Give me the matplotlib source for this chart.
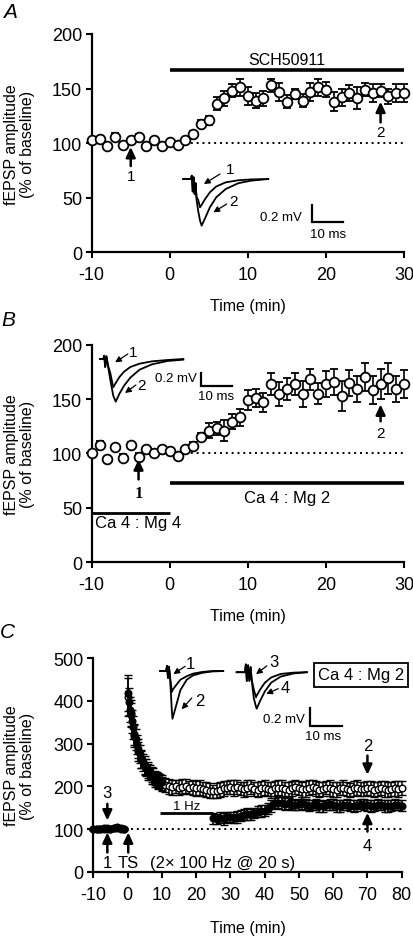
import matplotlib
matplotlib.use('Agg')
import matplotlib.pyplot as plt
import numpy as np

plt.rcParams['font.family'] = ['Liberation Sans', 'DejaVu Sans']
plt.rcParams['axes.unicode_minus'] = False

# ---------------- data ----------------
# Panel A (SCH50911)
A_time = np.arange(-10, 31)
A_vals = [103, 104, 97, 106, 98, 103, 106, 97, 103, 97, 101,
          98, 103, 108.5, 118, 121, 136, 141, 148, 151, 143,
          139, 141, 153, 147, 138, 145, 139, 147, 151, 149,
          138, 142, 146, 141, 149, 146, 148, 143, 146, 146]
A_err = [2, 2, 2, 3, 2, 2, 2, 2, 2, 2, 2,
         2, 2, 3, 3, 4, 6, 7, 6, 8, 8,
         7, 7, 6, 8, 6, 5, 6, 8, 8, 7,
         9, 8, 7, 10, 6, 8, 6, 7, 8, 8]

# Panel B (Ca 4 : Mg 4 -> Ca 4 : Mg 2)
B_time = np.arange(-10, 31)
B_vals = [100, 108, 95, 106, 96, 108, 97, 104, 100, 104, 102,
          98, 104, 107, 115, 121, 123, 121, 129, 133, 149,
          151, 147, 164, 155, 159, 164, 155, 168, 155, 164,
          166, 153, 165, 159, 170, 158, 164, 169, 159, 164]
B_err = [2, 3, 2, 2, 3, 2, 3, 2, 2, 2, 2,
         2, 2, 3, 4, 7, 6, 10, 7, 8, 9,
         8, 9, 10, 11, 10, 10, 12, 10, 10, 12,
         12, 14, 12, 12, 13, 13, 14, 14, 12, 13]

# Panel C, control pathway (open circles)
C_open_time = np.arange(-10, 81)
C_open_vals = [100, 99, 101, 100, 102, 101, 103, 102, 101, 100,
               410, 372, 318, 282, 262, 246, 234, 224, 216, 210, 206,
               203, 200, 198, 200, 197, 199, 201, 197, 198, 195,
               197, 193, 192, 190, 188, 190, 192, 195, 197, 199,
               196, 198, 195, 193, 196, 198, 194, 192, 195, 197,
               193, 191, 195, 197, 196, 193, 192, 195, 198, 196,
               193, 194, 197, 198, 195, 192, 194, 197, 196, 193,
               192, 195, 197, 194, 192, 195, 197, 194, 193, 196,
               195, 192, 193, 196, 194, 192, 193, 195, 194, 196]
C_open_err = [3, 3, 3, 3, 3, 3, 3, 3, 3, 3,
              45, 30, 25, 22, 20, 19, 18, 18, 17, 17, 17,
              16, 17, 18, 16, 17, 18, 17, 16, 18, 17,
              17, 16, 18, 17, 16, 17, 18, 17, 16, 17,
              18, 17, 16, 17, 18, 17, 16, 18, 17, 17,
              16, 18, 17, 17, 18, 16, 17, 18, 17, 16,
              17, 18, 17, 16, 17, 18, 17, 16, 18, 17,
              17, 16, 18, 17, 16, 17, 18, 17, 16, 17,
              18, 17, 16, 17, 18, 17, 16, 17, 18, 17]

# Panel C, 1 Hz pathway (filled circles)
C_fill_time = [-10, -9, -8, -7, -6, -5, -4, -3, -2, -1,
               0, 0.33, 0.67, 1, 1.33, 1.67, 2, 2.33, 2.67, 3,
               3.5, 4, 4.5, 5, 5.5, 6, 6.5, 7, 7.5, 8, 8.5, 9, 9.5, 10] + list(range(25, 81))
C_fill_vals = [100, 101, 99, 102, 101, 100, 103, 104, 102, 100,
               418, 398, 380, 368, 352, 338, 322, 310, 298, 288,
               276, 265, 256, 250, 244, 238, 233, 228, 224, 220, 217, 214, 212, 209,
               125, 123, 126, 124, 127, 128, 126, 129, 131, 133,
               135, 134, 138, 140, 142, 143, 148, 155, 160, 162,
               161, 158, 160, 157, 156, 158, 160, 157, 155, 156,
               158, 155, 153, 156, 158, 157, 155, 154, 156, 157,
               155, 153, 156, 158, 157, 156, 154, 155, 157, 156,
               154, 153, 155, 157, 156, 155]
C_fill_err = [3, 3, 3, 3, 3, 3, 3, 3, 3, 3,
              42, 32, 30, 28, 27, 26, 24, 24, 23, 22,
              22, 21, 20, 20, 19, 19, 18, 18, 18, 17, 17, 17, 17, 17,
              13, 12, 13, 14, 13, 12, 13, 14, 13, 13,
              14, 13, 12, 13, 14, 13, 13, 14, 13, 12,
              13, 14, 13, 13, 12, 13, 14, 13, 13, 12,
              13, 14, 13, 12, 13, 13, 14, 13, 12, 13,
              13, 14, 13, 12, 13, 13, 14, 13, 13, 12,
              13, 14, 13, 13, 12, 13]

# Example fEPSP traces (time in ms, voltage in mV)
trA_t = [2.6, 5.0, 5.3, 5.6, 5.9, 6.2, 6.5, 6.8, 7.3, 7.9, 8.4, 9.5, 11, 13, 16, 20, 24, 29.4]
trA_1 = [0, 0, 0.04, -0.15, 0.02, -0.18, -0.05, -0.22, -0.25, -0.34, -0.31, -0.24, -0.16, -0.09, -0.04, -0.015, -0.005, 0]
trA_2 = [0, 0, 0.04, -0.15, 0.02, -0.18, -0.05, -0.25, -0.38, -0.50, -0.56, -0.47, -0.34, -0.22, -0.12, -0.05, -0.02, 0]

trB_t = [3.2, 4.3, 4.6, 4.9, 5.3, 5.8, 6.5, 7.5, 8.3, 9.5, 11, 13, 16, 20, 25, 30.1]
trB_1 = [0, 0, 0.05, -0.12, 0.04, -0.1, -0.2, -0.425, -0.36, -0.27, -0.19, -0.12, -0.07, -0.035, -0.015, 0]
trB_2 = [0, 0, 0.05, -0.12, 0.04, -0.1, -0.3, -0.55, -0.64, -0.52, -0.40, -0.28, -0.16, -0.08, -0.03, -0.01]

trC1_t = [1.6, 3.5, 3.8, 4.1, 4.4, 4.7, 5.3, 5.5, 6.5, 8, 10, 12, 15, 18, 21.5]
trC1_1 = [0, 0, 0.06, -0.08, 0.05, -0.05, -0.24, -0.22, -0.17, -0.1, -0.06, -0.03, -0.01, 0, 0]
trC1_2 = [0, 0, 0.06, -0.08, 0.05, -0.05, -0.45, -0.55, -0.42, -0.22, -0.10, -0.05, -0.02, -0.005, 0]

trC2_t = [2.1, 4.7, 5.0, 5.3, 5.7, 6.1, 6.5, 6.8, 7.5, 8.2, 8.4, 9.5, 11, 13, 16, 20, 24.2]
trC2_3 = [0, 0, 0.09, -0.1, 0.08, -0.1, 0.06, -0.08, -0.2, -0.29, -0.27, -0.2, -0.12, -0.06, -0.02, -0.005, 0]
trC2_4 = [0, 0, 0.09, -0.1, 0.08, -0.1, 0.06, -0.08, -0.3, -0.40, -0.42, -0.33, -0.22, -0.12, -0.05, -0.015, 0]

# ---------------- figure ----------------
W, H = 413, 937
fig = plt.figure(figsize=(W / 100, H / 100), dpi=100)

TICK_FS = 13
LAB_FS = 11.5


def fbox(x0, y0, x1, y1):
    return [x0 / W, 1 - y1 / H, (x1 - x0) / W, (y1 - y0) / H]


def style(ax, xlim, ylim, xt, yt, ylab_x, xlab_y):
    ax.set_xlim(*xlim)
    ax.set_ylim(*ylim)
    ax.set_xticks(xt)
    ax.set_yticks(yt)
    for s in ['top', 'right']:
        ax.spines[s].set_visible(False)
    for s in ['left', 'bottom']:
        ax.spines[s].set_linewidth(1.6)
    ax.tick_params(direction='out', length=4, width=1.5, labelsize=TICK_FS)
    ax.tick_params(axis='x', pad=6)
    ax.tick_params(axis='y', pad=3)
    ax.set_ylabel('fEPSP amplitude\n(% of baseline)', fontsize=LAB_FS, linespacing=1.1)
    ax.yaxis.set_label_coords(ylab_x, 0.5)
    ax.set_xlabel('Time (min)', fontsize=LAB_FS)
    ax.xaxis.set_label_coords(0.5, xlab_y)
    ax.patch.set_alpha(0)


def arrow(ax, x, y0, y1, lw=1.8, ms=10):
    ax.annotate('', xy=(x, y1), xytext=(x, y0),
                arrowprops=dict(arrowstyle='-|>,head_length=0.6,head_width=0.28',
                                lw=lw, color='k', shrinkA=0, shrinkB=0,
                                mutation_scale=ms), zorder=6)


def small_arrow(ax, p0, p1):
    ax.annotate('', xy=p1, xytext=p0,
                arrowprops=dict(arrowstyle='-|>,head_length=0.5,head_width=0.25',
                                lw=0.9, color='k', shrinkA=0, shrinkB=0,
                                mutation_scale=7))


def inset(box, xlim, ylim):
    a = fig.add_axes(fbox(*box))
    a.set_xlim(*xlim)
    a.set_ylim(*ylim)
    a.axis('off')
    a.patch.set_alpha(0)
    return a


def scalebar(a, x0, x1, y0, y1, tx, ty, lx, ly, fs=9.5):
    a.plot([x0, x0, x1], [y0, y1, y1], color='k', lw=1.6, solid_joinstyle='miter')
    a.text(tx, ty, '0.2 mV', ha='right', va='center', fontsize=fs)
    a.text(lx, ly, '10 ms', ha='center', va='center', fontsize=fs)


ebkw = dict(fmt='o', ms=7, mfc='white', mec='k', mew=1.3, ecolor='k',
            elinewidth=1.2, capsize=3, capthick=1.2, zorder=5, clip_on=False)

# ---------------- Panel A ----------------
axA = fig.add_axes(fbox(91.7, 35, 404, 253.3))
style(axA, (-10, 30), (0, 200), [-10, 0, 10, 20, 30], [0, 50, 100, 150, 200], -0.18, -0.21)
axA.errorbar(A_time, A_vals, yerr=A_err, **ebkw)
axA.plot([2, 30], [100, 100], color='k', lw=1.4, ls=(0, (1, 2)), zorder=2)
axA.plot([0, 30], [167, 167], color='k', lw=2.6, solid_capstyle='butt', clip_on=False)
axA.text(15, 176.5, 'SCH50911', ha='center', va='center', fontsize=11.5)
arrow(axA, -5, 79, 96.5)
axA.text(-5, 70, '1', ha='center', va='center', fontsize=11)
arrow(axA, 27, 119, 138)
axA.text(27, 110, '2', ha='center', va='center', fontsize=11)
fig.text(10 / W, 1 - 12 / H, 'A', fontsize=15, style='italic', ha='center', va='center')

iA = inset((175, 160, 350, 245), (0, 55.2), (-0.78, 0.24))
iA.plot(trA_t, trA_1, color='k', lw=1.3)
iA.plot(trA_t, trA_2, color='k', lw=1.3)
iA.text(17.4, 0.12, '1', ha='center', va='center', fontsize=11)
small_arrow(iA, (14.2, 0.06), (9.1, -0.06))
iA.text(18.4, -0.26, '2', ha='center', va='center', fontsize=11)
small_arrow(iA, (16.3, -0.3), (12.1, -0.4))
scalebar(iA, 43.1, 53.1, -0.31, -0.51, 40, -0.46, 48.4, -0.66)

# ---------------- Panel B ----------------
axB = fig.add_axes(fbox(91.7, 345.7, 404, 563))
style(axB, (-10, 30), (0, 200), [-10, 0, 10, 20, 30], [0, 50, 100, 150, 200], -0.18, -0.21)
axB.errorbar(B_time, B_vals, yerr=B_err, **ebkw)
axB.plot([2, 30], [100, 100], color='k', lw=1.4, ls=(0, (1, 2)), zorder=2)
axB.plot([0, 30], [72.4, 72.4], color='k', lw=2.6, solid_capstyle='butt', clip_on=False)
axB.text(15, 59.5, 'Ca 4 : Mg 2', ha='center', va='center', fontsize=12)
axB.plot([-10, 0], [45.5, 45.5], color='k', lw=2.0, solid_capstyle='butt', clip_on=False)
axB.text(-9.6, 36, 'Ca 4 : Mg 4', ha='left', va='center', fontsize=12)
arrow(axB, -4, 76, 94.5)
axB.text(-4, 63.5, '1', ha='center', va='center', fontsize=12,
         family=['Liberation Serif', 'DejaVu Serif'], weight='bold')
arrow(axB, 27, 129.5, 145)
axB.text(27, 119, '2', ha='center', va='center', fontsize=11)
fig.text(8 / W, 1 - 320 / H, 'B', fontsize=15, style='italic', ha='center', va='center')

iB = inset((90, 340, 240, 410), (0, 48.4), (-0.75, 0.3))
iB.plot(trB_t, trB_1, color='k', lw=1.3)
iB.plot(trB_t, trB_2, color='k', lw=1.3)
iB.text(14.0, 0.11, '1', ha='center', va='center', fontsize=11)
small_arrow(iB, (12.2, 0.075), (8.1, -0.05))
iB.text(16.7, -0.385, '2', ha='center', va='center', fontsize=11)
small_arrow(iB, (14.8, -0.39), (11.3, -0.51))
scalebar(iB, 35.7, 45.7, -0.21, -0.41, 34.4, -0.285, 40.6, -0.55)

# ---------------- Panel C ----------------
axC = fig.add_axes(fbox(93.3, 659.3, 401.7, 872.7))
style(axC, (-10, 80), (0, 500), np.arange(-10, 81, 10), np.arange(0, 501, 100), -0.189, -0.225)
ckw = dict(fmt='o', ms=4.8, mec='k', mew=1.0, ecolor='k', elinewidth=1.1,
           capsize=2.6, capthick=1.1, clip_on=False)
axC.errorbar(C_open_time, C_open_vals, yerr=C_open_err, mfc='white', zorder=4, **ckw)
axC.errorbar(C_fill_time, C_fill_vals, yerr=C_fill_err, mfc='k', zorder=5, **ckw)
axC.plot([1, 80], [100, 100], color='k', lw=1.4, ls=(0, (1, 2)), zorder=2)
axC.plot([9.5, 25], [137.5, 137.5], color='k', lw=2.0, solid_capstyle='butt')
axC.text(17.3, 154, '1 Hz', ha='center', va='center', fontsize=9.5)
arrow(axC, -5.9, 159, 120)
axC.text(-5.9, 185, '3', ha='center', va='center', fontsize=12)
arrow(axC, -5.9, 45, 92)
axC.text(-5.9, 21, '1', ha='center', va='center', fontsize=12)
arrow(axC, 0.2, 45, 92)
axC.text(0.2, 21, 'TS', ha='center', va='center', fontsize=12)
axC.text(6.6, 21, '(2\u00d7 100 Hz @ 20 s)', ha='left', va='center', fontsize=12)
arrow(axC, 70, 272, 227)
axC.text(70, 296, '2', ha='center', va='center', fontsize=12)
arrow(axC, 70, 94, 138)
axC.text(70, 61, '4', ha='center', va='center', fontsize=12)
axC.text(68.1, 461, 'Ca 4 : Mg 2', ha='center', va='center', fontsize=12,
         bbox=dict(boxstyle='square,pad=0.25', fc='white', ec='k', lw=1.3))
fig.text(7 / W, 1 - 633 / H, 'C', fontsize=15, style='italic', ha='center', va='center')

iC1 = inset((155, 655, 345, 745), (0, 59.9), (-0.84, 0.196))
iC1.plot(trC1_t, trC1_1, color='k', lw=1.3)
iC1.plot(trC1_t, trC1_2, color='k', lw=1.3)
iC1.text(11.0, 0.09, '1', ha='center', va='center', fontsize=12)
small_arrow(iC1, (9.5, 0.054), (5.8, -0.035))
iC1.text(14.2, -0.34, '2', ha='center', va='center', fontsize=12)
small_arrow(iC1, (11.6, -0.31), (8.4, -0.44))
scalebar(iC1, 48.9, 58.9, -0.43, -0.63, 47.3, -0.55, 53.1, -0.75)

iC2 = inset((230, 655, 310, 720), (0, 25.2), (-0.54, 0.21))
iC2.plot(trC2_t, trC2_3, color='k', lw=1.3)
iC2.plot(trC2_t, trC2_4, color='k', lw=1.3)
iC2.text(13.7, 0.12, '3', ha='center', va='center', fontsize=12)
small_arrow(iC2, (11.6, 0.073), (8.2, -0.023))
iC2.text(17.4, -0.18, '4', ha='center', va='center', fontsize=12)
small_arrow(iC2, (15.2, -0.19), (11.4, -0.25))

fig.savefig('out.png', dpi=100)
